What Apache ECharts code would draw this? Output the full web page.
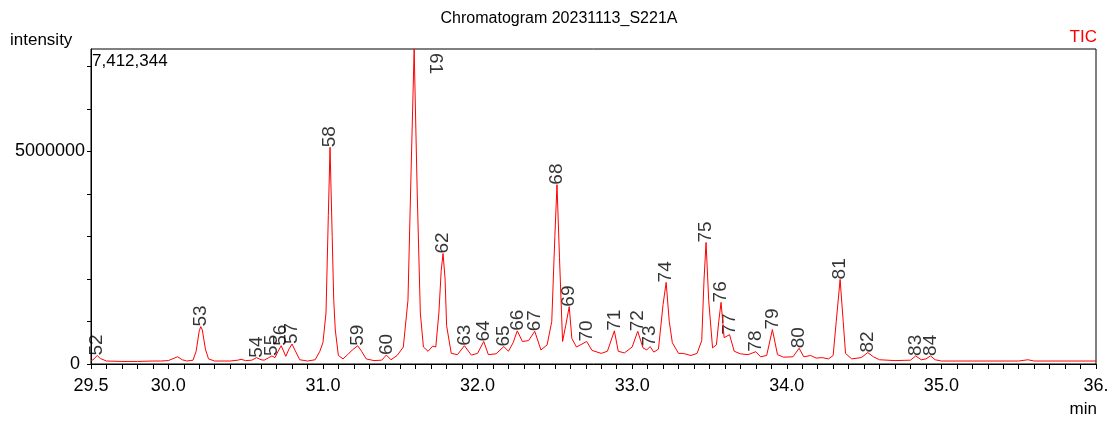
<!DOCTYPE html>
<html><head><meta charset="utf-8">
<script src="https://cdn.jsdelivr.net/npm/echarts@6/dist/echarts.min.js"></script>
<style>html,body{margin:0;padding:0;background:#fff}#c{width:1118px;height:423px}</style>
</head><body><div id="c"></div>
<script>
// ---- data ----
const traceTime = [
29.50,29.52,29.54,29.56,29.60,29.70,29.80,29.90,29.95,30.00,30.04,30.06,30.09,30.12,30.16,30.18,30.20,30.21,30.22,30.24,
30.26,30.30,30.40,30.45,30.47,30.50,30.54,30.57,30.60,30.62,30.65,30.67,30.69,30.71,30.73,30.76,30.78,30.80,30.82,30.85,
30.90,30.95,30.98,31.00,31.02,31.035,31.046,31.06,31.07,31.08,31.10,31.13,31.16,31.19,31.225,31.25,31.28,31.33,31.38,31.41,
31.44,31.48,31.52,31.55,31.57,31.59,31.61,31.63,31.65,31.68,31.71,31.73,31.75,31.765,31.777,31.79,31.80,31.83,31.87,31.915,
31.96,32.00,32.04,32.07,32.12,32.17,32.20,32.23,32.257,32.29,32.33,32.37,32.41,32.45,32.48,32.50,32.514,32.53,32.55,32.57,
32.593,32.61,32.64,32.706,32.74,32.80,32.84,32.885,32.91,32.95,33.00,33.036,33.07,33.094,33.116,33.14,33.17,33.20,33.22,33.24,
33.26,33.30,33.33,33.38,33.42,33.45,33.465,33.478,33.495,33.52,33.545,33.56,33.575,33.595,33.63,33.66,33.70,33.75,33.80,33.83,
33.87,33.907,33.94,33.98,34.04,34.08,34.11,34.155,34.19,34.23,34.27,34.30,34.32,34.345,34.365,34.38,34.42,34.48,34.50,34.524,
34.56,34.60,34.70,34.80,34.834,34.87,34.90,34.93,34.96,35.00,35.20,35.50,35.56,35.60,35.80,36.00
];
const traceIntensity = [
70000,120000,200000,130000,70000,60000,60000,70000,70000,80000,140000,170000,100000,70000,90000,300000,780000,880000,800000,350000,
120000,70000,70000,90000,110000,80000,90000,150000,100000,90000,150000,190000,150000,300000,430000,180000,350000,470000,320000,100000,
70000,100000,300000,500000,1200000,3500000,5100000,3000000,1500000,800000,200000,120000,220000,330000,430000,300000,120000,80000,90000,210000,
100000,200000,400000,1500000,4500000,7412344,4000000,1200000,400000,300000,420000,400000,1200000,2200000,2600000,2000000,900000,250000,220000,430000,
210000,250000,530000,220000,240000,410000,300000,500000,780000,530000,550000,770000,330000,450000,1000000,3000000,4220000,2500000,530000,900000,
1350000,600000,400000,530000,320000,250000,300000,780000,300000,260000,400000,770000,380000,330000,410000,280000,350000,1400000,1920000,1000000,
500000,250000,250000,200000,250000,550000,2000000,2860000,1500000,380000,450000,1000000,1450000,620000,690000,300000,240000,220000,290000,170000,
200000,810000,220000,160000,170000,370000,170000,200000,140000,150000,120000,200000,1000000,1990000,1000000,250000,120000,150000,200000,270000,
170000,100000,80000,90000,190000,100000,120000,190000,100000,70000,70000,70000,100000,70000,70000,70000
];
const peakIds = ['52','53','54','55','56','57','58','59','60','61','62','63','64','65','66','67','68','69','70','71','72','73','74','75','76','77','78','79','80','81','82','83','84'];
const peakTimes = [29.54,30.21,30.57,30.67,30.73,30.80,31.046,31.225,31.41,31.59,31.777,31.915,32.04,32.17,32.257,32.37,32.514,32.593,32.706,32.885,33.036,33.116,33.22,33.478,33.575,33.63,33.80,33.907,34.08,34.345,34.524,34.834,34.93];
const peakHeights = [200000,880000,150000,190000,430000,470000,5100000,430000,210000,7412344,2600000,430000,530000,410000,780000,770000,4220000,1350000,530000,780000,770000,410000,1920000,2860000,1450000,690000,290000,810000,370000,1990000,270000,190000,190000];
const xTickLabels = {'29.5':'29.5','30':'30.0','31':'31.0','32':'32.0','33':'33.0','34':'34.0','35':'35.0','36':'36.'};
const yTickLabels = {'0':'0 ','5000000':'5000000'};
const titleText = 'Chromatogram 20231113_S221A';
const yAxisName = 'intensity';
const xAxisName = 'min';
const traceName = 'TIC';
const maxIntensityText = '7,412,344';

// ---- chart ----
const FONT = "'Liberation Sans', Arial, sans-serif";
const chart = echarts.init(document.getElementById('c'), null, {renderer: 'canvas'});
const labelOverrides = {'61': {rotate: -90, offset: [4, -21]}};

const peakData = peakTimes.map((t, i) => {
  const d = {value: [t, peakHeights[i]], name: peakIds[i]};
  if (labelOverrides[peakIds[i]]) d.label = labelOverrides[peakIds[i]];
  return d;
});

chart.setOption({
  animation: false,
  backgroundColor: '#ffffff',
  title: {text: titleText, left: 554, textAlign: 'center', top: 6,
    textStyle: {fontFamily: FONT, fontSize: 16, fontWeight: 'normal', color: '#000'}},
  grid: {left: 91, right: 22, top: 49, bottom: 59, show: true, borderColor: '#000', borderWidth: 1, containLabel: false},
  xAxis: {
    type: 'value', min: 29.5, max: 36, interval: 0.1,
    axisLine: {show: true, onZero: false, lineStyle: {color: '#000', width: 1}},
    axisTick: {show: true, length: 5, lineStyle: {color: '#000'}},
    splitLine: {show: false},
    axisLabel: {show: true, margin: 13, fontFamily: FONT, fontSize: 18, color: '#000',
      showMinLabel: true, showMaxLabel: true,
      formatter: v => { const k = String(Math.round(v * 10) / 10); return xTickLabels[k] || ''; }}
  },
  yAxis: {
    type: 'value', min: 0, max: 7412344, interval: 1000000,
    axisLine: {show: true, lineStyle: {color: '#000', width: 1}},
    axisTick: {show: true, length: 4, lineStyle: {color: '#000'}},
    splitLine: {show: false},
    axisLabel: {show: true, margin: 6, fontFamily: FONT, fontSize: 18, color: '#000',
      showMaxLabel: false,
      formatter: v => yTickLabels[String(Math.round(v))] || ''}
  },
  graphic: [
    {type: 'text', left: 10, top: 32, style: {text: yAxisName, font: '17px ' + FONT, fill: '#000'}},
    {type: 'text', left: 92, top: 53, style: {text: maxIntensityText, font: '17px ' + FONT, fill: '#000'}},
    {type: 'text', right: 21, top: 29, style: {text: traceName, font: '17px ' + FONT, fill: '#ff0000'}},
    {type: 'text', right: 21, top: 401, style: {text: xAxisName, font: '17px ' + FONT, fill: '#000'}}
  ],
  series: [
    {type: 'line', name: traceName, data: traceTime.map((t, i) => [t, traceIntensity[i]]),
      showSymbol: false, symbol: 'none', smooth: false, clip: true,
      lineStyle: {color: '#ff0000', width: 1}, silent: true},
    {type: 'scatter', data: peakData, symbolSize: 0, silent: true, clip: false,
      label: {show: true, formatter: '{b}', position: 'inside', rotate: 90, align: 'left', verticalAlign: 'middle',
        offset: [0, 0], fontFamily: FONT, fontSize: 19, color: '#000'}}
  ]
});
</script>
</body></html>
